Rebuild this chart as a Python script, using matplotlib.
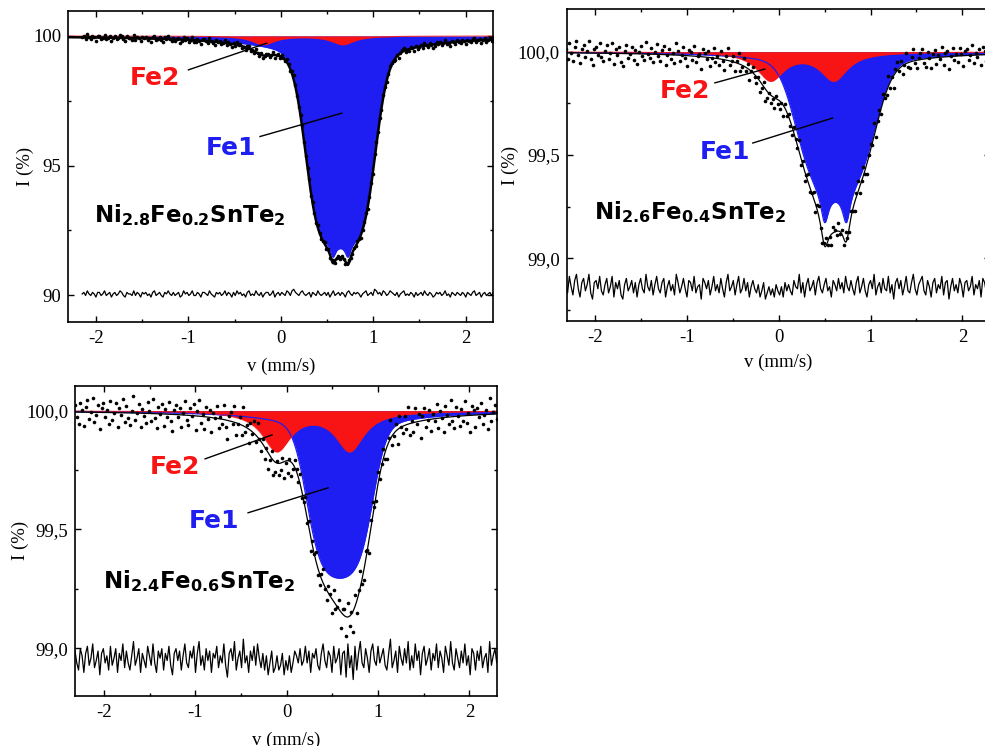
import numpy as np
import matplotlib.pyplot as plt
from matplotlib.ticker import MultipleLocator

plt.rcParams['font.family'] = ['Liberation Serif', 'DejaVu Serif']
plt.rcParams['mathtext.fontset'] = 'dejavusans'

# velocity channels of the three spectra
v_1 = np.linspace(-2.15, 2.30, 240)
v_23 = np.linspace(-2.32, 2.32, 240)

# residuals (data - fit), in units of resid_step for each spectrum
resid_1 = [0, 1, -1, 2, 0, -1, 1, 0, -2, 1, 1, -1, 0, 2, -1, 0, 1, -2, 0, 1,
           -1, 0, 2, 1, -1, -2, 1, 0, 0, -1, 2, -1, 1, 0, -2, 1, 0, 1, -1, 0,
           -2, 1, 2, -1, 0, 1, -1, -2, 1, 0, 2, 0, -1, 1, -1, 0, 1, -2, -1, 2,
           0, 1, -1, 0, 2, -1, -1, 1, 0, -2, 1, 1, 0, -1, 2, 0, -1, -2, 1, 0,
           1, -1, 0, 2, -1, 1, 0, -2, 1, -1, 2, 0, 1, -1, 0, -2, 1, 2, -1, 0,
           -1, 2, 0, -1, 1, -2, 0, 1, 1, -1, 0, 2, -2, 0, 1, -1, 1, 0, -1, 2,
           1, -1, 2, 3, 1, 0, -1, 1, 2, 0, -1, 0, 1, -2, 1, 0, -1, 2, 0, -1,
           0, 1, -1, 1, -2, 0, 2, -1, 0, 1, -1, 1, 0, -2, 1, 2, 0, -1, 1, 0,
           1, 0, -2, 0, 1, 2, -1, 0, 1, -1, 3, 2, 0, 1, -1, 2, 1, -1, 0, 2,
           1, 0, -1, 1, -2, 0, 1, 2, -1, 0, -1, 1, 0, -2, 1, -1, 0, 1, -1, 2,
           0, -1, 1, 0, -2, -1, 1, 0, 1, -1, 0, 2, -1, 0, -2, 1, 0, -1, 1, 0,
           -1, 1, 0, -2, 1, 0, -1, 1, 2, -1, 0, 1, -2, 0, 1, -1, 0, 1, -1, 1]
resid_2 = [2, -3, 5, 0, -4, 3, 6, -1, -5, 2, 4, -2, 1, 6, -3, -6, 2, 3, -1, 5,
           -2, -4, 1, 4, -3, 0, 5, -5, 2, -1, 3, -4, -6, 1, 4, -2, 0, 3, -3, 2,
           -5, 1, 4, -1, -3, 6, 0, -2, 3, -4, 1, 5, -1, -3, 2, 4, -5, 0, 3, -2,
           1, -4, 6, 2, -3, 0, 4, -1, -5, 3, 2, -2, 5, -3, 0, 1, -6, 4, 2, -1,
           3, -4, 0, 5, -2, 1, -3, 4, -1, -5, 2, 6, -2, 0, 3, -4, 1, 5, -3, -1,
           4, -2, 2, -5, 0, 3, -1, -3, 1, -5, -2, 2, -6, -3, 0, -4, -1, -5, 1, -2,
           -4, 0, -5, 2, -2, 1, -2, -4, 3, 0, -1, 6, -3, 2, -5, 1, 4, -2, 0, 3,
           -4, 2, 5, -1, -3, 1, 4, -2, 0, -5, 3, 1, -2, 4, -1, 2, -3, 5, 0, -2,
           3, -1, -4, 2, 5, -3, 0, 4, -2, -5, 1, 3, -1, 6, -4, 0, 2, -3, 4, -1,
           -2, 5, -3, 1, -6, 2, 4, -1, 3, -4, 0, 5, -2, -3, 2, 6, -1, -4, 1, 3,
           5, -2, -4, 3, 0, -5, 2, 4, -3, 1, -1, 5, -4, 2, 3, -6, 0, 4, -2, 1,
           -3, 4, 1, -5, 2, 3, -2, 0, 5, -4, 1, -1, 3, -5, 4, 2, -3, 0, 6, -2]
resid_3 = [3, -2, -5, 4, 1, -6, 2, 5, -3, 0, 6, -4, -1, 3, -7, 2, 4, -2, 1, -5,
           5, -3, 0, 4, -6, 2, -1, 6, -4, 3, -2, -5, 1, 7, -3, 0, 4, -6, 2, -1,
           -4, 5, 1, -3, 6, -2, -6, 3, 0, 4, -5, 2, -1, 5, -3, -7, 2, 4, -1, 3,
           -5, 1, 6, -2, -4, 3, 0, 5, -6, 2, 7, -3, 1, -5, 4, -1, 3, -6, 2, 0,
           5, -4, 1, -2, 6, -3, -8, 2, 4, -1, 7, -5, 0, 3, -4, 8, -2, 1, -6, 3,
           -1, 5, -3, 6, 0, -4, 2, -5, 1, -7, -2, 3, -6, -4, 1, -5, -3, 2, -7, -1,
           -5, 1, -6, -2, 3, 1, -2, 4, -3, -1, 5, -2, 3, -6, 2, 0, 4, -3, -5, 2,
           6, -1, -4, 3, 1, -6, 5, -2, 0, 4, -7, 2, 3, -8, 6, -4, 1, -9, 5, -5,
           2, 7, -2, -4, 4, 0, -6, 3, 6, -1, -3, 5, -2, 1, 4, -3, -5, 2, 8, -4,
           -1, 3, -6, 5, 0, -3, 4, -2, 7, -5, 1, -4, 6, -1, 3, -7, 2, 5, -3, 0,
           4, -5, 2, -1, 6, -4, 3, 0, -6, 5, 1, -3, 7, -2, -5, 4, 0, -4, 3, -2,
           6, -3, 1, -7, 4, 2, -5, 3, -1, 5, -4, 0, 2, -6, 7, -3, 1, 4, -2, 5]
resid_step = [0.06, 0.01, 0.01]
resid_offset = [90.05, 98.863, 98.958]

# doublet subspectra: Gaussian body with saturation, Lorentzian wings, narrow line tips
fe1_1 = dict(centers=[0.565, 0.727], body=6.9, sigma=0.17, sat=3.0,
             wing=0.6, wing_w=0.6, tip=0.5, tip_w=0.035)
fe2_1 = dict(centers=[-0.19, 0.67], body=0.0, sigma=0.1, sat=0.0,
             wing=0.33, wing_w=0.15, tip=0.0, tip_w=0.05)
fe1_2 = dict(centers=[0.50, 0.736], body=0.615, sigma=0.21, sat=1.8,
             wing=0.05, wing_w=0.6, tip=0.151, tip_w=0.05)
fe2_2 = dict(centers=[-0.09, 0.60], body=0.0, sigma=0.1, sat=0.0,
             wing=0.135, wing_w=0.18, tip=0.0, tip_w=0.05)
fe1_3 = dict(centers=[0.48, 0.68], body=0.63, sigma=0.17, sat=2.0,
             wing=0.05, wing_w=0.6, tip=0.0, tip_w=0.05)
fe2_3 = dict(centers=[-0.11, 0.69], body=0.0, sigma=0.1, sat=0.0,
             wing=0.165, wing_w=0.19, tip=0.0, tip_w=0.05)

formulas = [r'$\mathbf{Ni_{2.8}Fe_{0.2}SnTe_{2}}$',
            r'$\mathbf{Ni_{2.6}Fe_{0.4}SnTe_{2}}$',
            r'$\mathbf{Ni_{2.4}Fe_{0.6}SnTe_{2}}$']

x_ticks = [-2, -1, 0, 1, 2]
x_tick_labels = ['-2', '-1', '0', '1', '2']
y_ticks_1 = [90, 95, 100]
y_tick_labels_1 = ['90', '95', '100']
y_ticks_23 = [99.0, 99.5, 100.0]
y_tick_labels_23 = ['99,0', '99,5', '100,0']


def lorentz(v, centers, w):
    return sum(w ** 2 / ((v - c) ** 2 + w ** 2) for c in centers)


def gauss(v, centers, s):
    return sum(np.exp(-0.5 * ((v - c) / s) ** 2) for c in centers)


def absorption(v, p):
    return (p['body'] * (1 - np.exp(-p['sat'] * gauss(v, p['centers'], p['sigma'])))
            + p['wing'] * lorentz(v, p['centers'], p['wing_w'])
            + p['tip'] * lorentz(v, p['centers'], p['tip_w']))


W, H = 985, 746
fig = plt.figure(figsize=(W / 100, H / 100), dpi=100)
ax1 = fig.add_axes([68.3 / W, 1 - 321.7 / H, 425 / W, 310.7 / H])
ax2 = fig.add_axes([566.7 / W, 1 - 321.0 / H, 423.2 / W, 311.7 / H])
ax3 = fig.add_axes([75.0 / W, 1 - 695.7 / H, 421.7 / W, 310.0 / H])

panels = [
    dict(ax=ax1, v=v_1, resid=resid_1, fe1=fe1_1, fe2=fe2_1, xlim=(-2.30, 2.30),
         ylim=(88.98, 100.96), yt=y_ticks_1, ytl=y_tick_labels_1, ymin=2.5, fit_lw=1.8,
         fe2_txt=(-1.36, 98.38), fe2_line=[(-1.0, 98.69), (-0.153, 99.72)],
         fe1_txt=(-0.539, 95.69), fe1_line=[(-0.225, 96.12), (0.659, 97.02)],
         form_txt=(-0.983, 93.11), xlab_y=-0.1426, ylab_x=-0.102),
    dict(ax=ax2, v=v_23, resid=resid_2, fe1=fe1_2, fe2=fe2_2, xlim=(-2.31, 2.30),
         ylim=(98.697, 100.205), yt=y_ticks_23, ytl=y_tick_labels_23, ymin=0.25, fit_lw=0.9,
         fe2_txt=(-1.022, 99.81), fe2_line=[(-0.696, 99.849), (-0.152, 99.916)],
         fe1_txt=(-0.587, 99.515), fe1_line=[(-0.283, 99.558), (0.587, 99.679)],
         form_txt=(-0.967, 99.224), xlab_y=-0.1325, ylab_x=-0.134),
    dict(ax=ax3, v=v_23, resid=resid_3, fe1=fe1_3, fe2=fe2_3, xlim=(-2.32, 2.30),
         ylim=(98.80, 100.105), yt=y_ticks_23, ytl=y_tick_labels_23, ymin=0.25, fit_lw=0.9,
         fe2_txt=(-1.223, 99.763), fe2_line=[(-0.895, 99.797), (-0.161, 99.898)],
         fe1_txt=(-0.796, 99.536), fe1_line=[(-0.424, 99.57), (0.452, 99.675)],
         form_txt=(-0.958, 99.283), xlab_y=-0.1445, ylab_x=-0.130),
]

blue = '#1e1ef2'
red = '#f81414'

for i, p in enumerate(panels):
    ax = p['ax']
    vf = np.linspace(-2.4, 2.4, 1600)
    a1 = absorption(vf, p['fe1'])
    a2 = absorption(vf, p['fe2'])

    ax.fill_between(vf, 100, 100 - a1, color=blue, lw=0, zorder=1)
    ax.fill_between(vf, 100, 100 - a2, color=red, lw=0, zorder=2)
    ax.plot(vf, 100 - a1, color=blue, lw=0.9, zorder=2)
    ax.plot(vf, 100 - a2, color=red, lw=0.9, alpha=0.6, zorder=2)
    ax.plot(vf, 100 - a1 - a2, color='black', lw=p['fit_lw'], zorder=3)

    # measured points and residual trace
    r = np.array(p['resid']) * resid_step[i]
    fit = 100 - absorption(p['v'], p['fe1']) - absorption(p['v'], p['fe2'])
    ax.plot(p['v'], fit + r, 'o', color='black', ms=2.6, mew=0, zorder=4)
    ax.plot(p['v'], resid_offset[i] + r, color='black', lw=0.9, zorder=3)

    # labels with leader lines
    (x0, y0), (x1, y1) = p['fe2_line']
    ax.plot([x0, x1], [y0, y1], color='black', lw=1.0, zorder=5)
    (x0, y0), (x1, y1) = p['fe1_line']
    ax.plot([x0, x1], [y0, y1], color='black', lw=1.0, zorder=5)
    ax.text(*p['fe2_txt'], 'Fe2', color=red, fontsize=18, fontweight='bold',
            family='DejaVu Sans', ha='center', va='center', zorder=6)
    ax.text(*p['fe1_txt'], 'Fe1', color=blue, fontsize=18, fontweight='bold',
            family='DejaVu Sans', ha='center', va='center', zorder=6)
    ax.text(*p['form_txt'], formulas[i], color='black', fontsize=16.5,
            ha='center', va='center', zorder=6)

    ax.set_xlim(*p['xlim'])
    ax.set_ylim(*p['ylim'])
    ax.set_xticks(x_ticks, x_tick_labels)
    ax.set_yticks(p['yt'], p['ytl'])
    ax.xaxis.set_minor_locator(MultipleLocator(0.5))
    ax.yaxis.set_minor_locator(MultipleLocator(p['ymin']))
    ax.tick_params(which='both', direction='in', top=True, right=True,
                   labelsize=13.5, width=1.0)
    ax.tick_params(which='major', length=4)
    ax.tick_params(which='minor', length=2.2)
    ax.tick_params(axis='x', pad=6)
    ax.tick_params(axis='y', pad=5)
    for s in ax.spines.values():
        s.set_linewidth(1.2)

    ax.set_xlabel('v (mm/s)', fontsize=13.5, va='center')
    ax.xaxis.set_label_coords(0.5, p['xlab_y'])
    ax.set_ylabel('I (%)', fontsize=13.5, va='center')
    ax.yaxis.set_label_coords(p['ylab_x'], 0.5)

fig.savefig('out.png', dpi=100)
